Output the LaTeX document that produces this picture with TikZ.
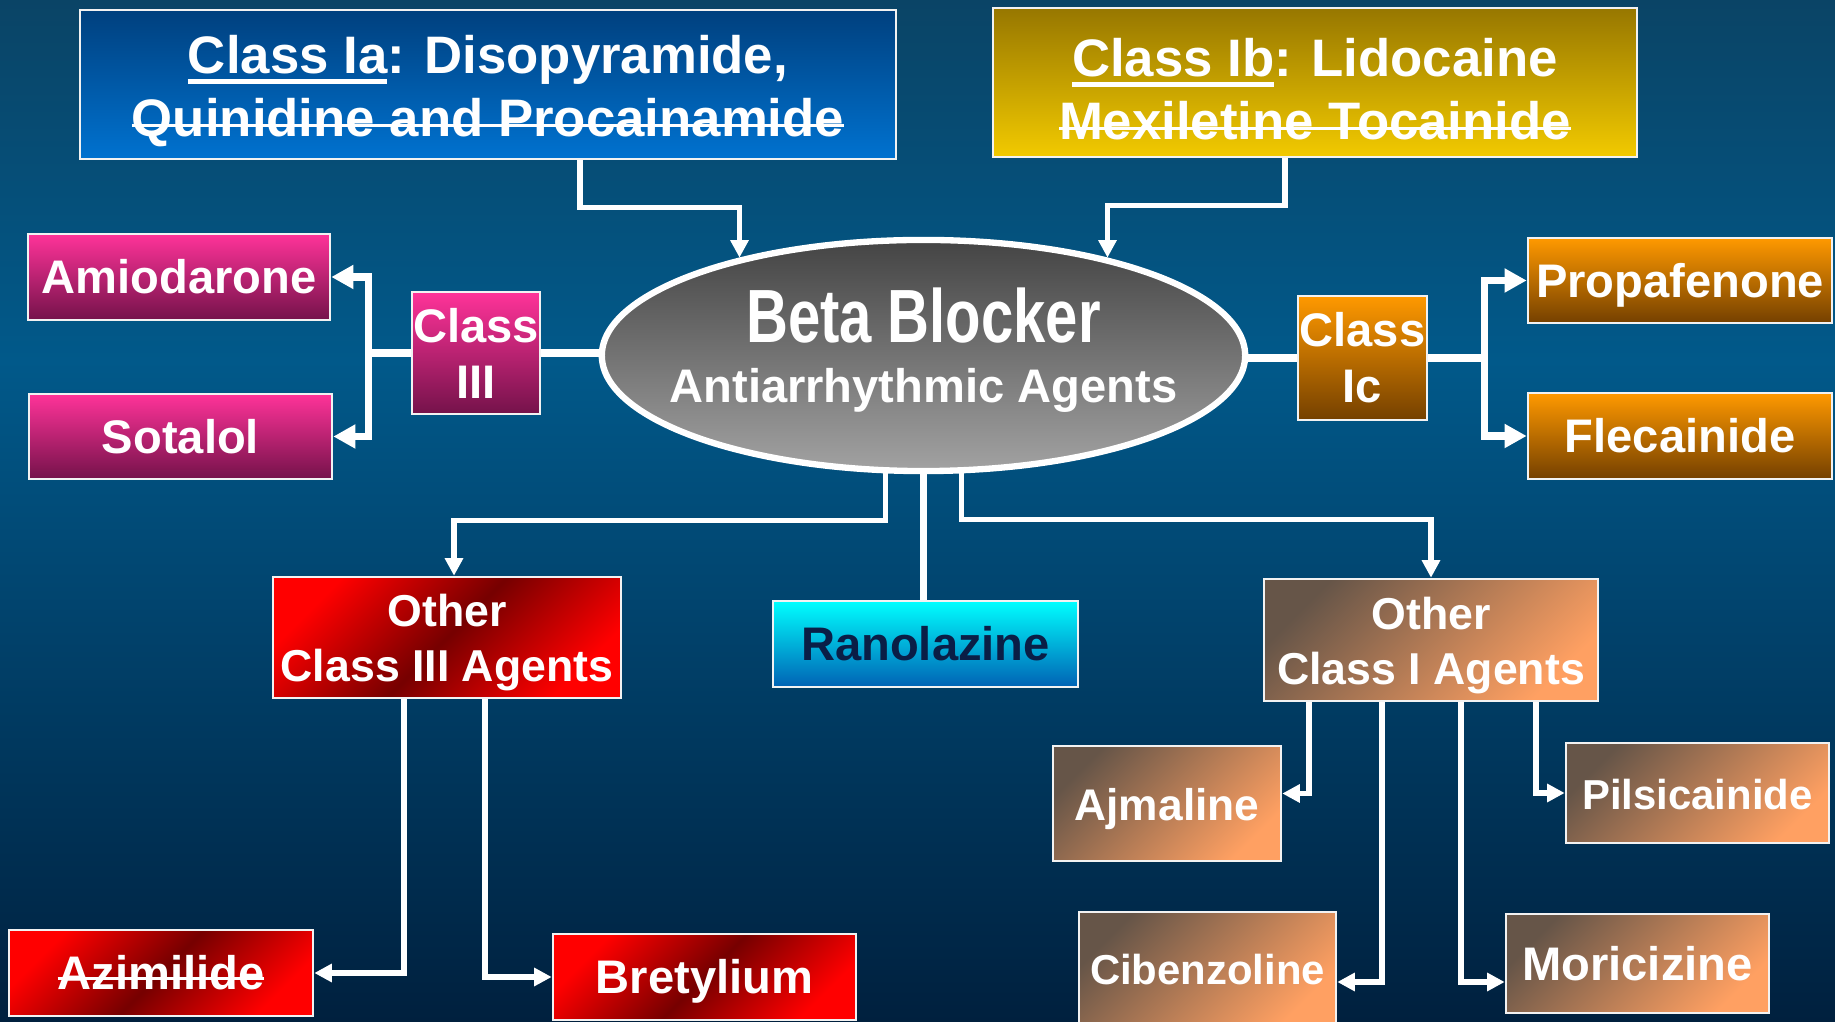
\documentclass[tikz,border=0pt]{standalone}
\usepackage{fontspec}
\setmainfont{Liberation Sans}
\usetikzlibrary{arrows.meta,shapes.geometric}

\definecolor{bgtop}{HTML}{0A4466}
\definecolor{bgmid}{HTML}{01598A}
\definecolor{bgbot}{HTML}{00203E}
\definecolor{iaT}{HTML}{00407E}
\definecolor{iaB}{HTML}{0072D0}
\definecolor{ibT}{HTML}{977700}
\definecolor{ibB}{HTML}{F2CA00}
\definecolor{pinkT}{HTML}{FF3399}
\definecolor{pinkB}{HTML}{74124A}
\definecolor{orgT}{HTML}{FF9900}
\definecolor{orgB}{HTML}{744000}
\definecolor{redL}{HTML}{FF0000}
\definecolor{redD}{HTML}{760000}
\definecolor{brnD}{HTML}{665548}
\definecolor{brnL}{HTML}{FFA062}
\definecolor{cyanT}{HTML}{00FFFF}
\definecolor{cyanB}{HTML}{0062B4}
\definecolor{navytxt}{HTML}{0A1E46}
\definecolor{ellT}{HTML}{444444}
\definecolor{ellB}{HTML}{A2A2A2}

% underline / strike-through
\newlength\decowd
\newcommand\ulc[1]{\settowidth\decowd{#1}\rlap{\rule[-3.1pt]{\decowd}{1.4pt}}#1}
\newcommand\stk[1]{\settowidth\decowd{#1}\rlap{\rule[2.7pt]{\decowd}{0.9pt}}#1}

\tikzset{
  box/.style={draw=white!90!gray, line width=0.7pt, inner sep=0pt, text=white, align=center,
    font=\bfseries\fontsize{13.4}{15.9}\selectfont},
  one/.style={box, text height=9.6pt, text depth=0pt},
  bluebox/.style={top color=iaT, bottom color=iaB},
  goldbox/.style={top color=ibT, bottom color=ibB},
  pinkbox/.style={top color=pinkT, bottom color=pinkB},
  orangebox/.style={top color=orgT, bottom color=orgB},
  cyanbox/.style={top color=cyanT, bottom color=cyanB},
  redbox/.style={top color=redL, bottom color=redL, middle color=redD, shading angle=45},
  brownbox/.style={top color=brnD, bottom color=brnL, shading angle=45},
  conn/.style={draw=white, line width=1.5pt, -{Triangle[length=5pt,width=5pt]}},
  connb/.style={draw=white, line width=2pt, -{Triangle[length=6.3pt,width=6.5pt]}},
  link/.style={draw=white, line width=2.2pt},
}

\begin{document}
\begin{tikzpicture}[x=0.01cm, y=-0.01cm]
  \useasboundingbox (0,0) rectangle (1835,1022);
  % background
  \shade[top color=bgtop, bottom color=bgmid] (0,0) rectangle (1835,361);
  \shade[top color=bgmid, bottom color=bgbot] (0,360) rectangle (1835,1022);

  % class I a / I b
  \node[box, bluebox, minimum width=8.16cm, minimum height=1.49cm,
    font=\bfseries\fontsize{15}{17.9}\selectfont] (ia) at (488,84.5)
    {\rule{0pt}{14.5pt}\ulc{Class Ia}: Disopyramide,\\\stk{Quinidine and Procainamide}};
  \node[box, goldbox, minimum width=6.44cm, minimum height=1.49cm,
    font=\bfseries\fontsize{15}{17.9}\selectfont] (ib) at (1315,82.5)
    {\rule{0pt}{14.5pt}\ulc{Class Ib}: Lidocaine\\\stk{Mexiletine Tocainide}};

  % centre
  \node[ellipse, draw=white, line width=1.8pt, top color=ellT, bottom color=ellB,
    minimum width=6.43cm, minimum height=2.31cm, inner sep=0pt, text=white, align=center,
    font=\bfseries\fontsize{13.4}{17.2}\selectfont] (bb) at (923.5,355.5)
    {\makebox[0pt]{\fontsize{16.5}{17.2}\selectfont\scalebox{1}[1.3]{Beta Blocker}}\\
     \makebox[0pt]{Antiarrhythmic Agents}\rule[-6pt]{0pt}{0pt}};

  % class III
  \node[box, pinkbox, minimum width=1.28cm, minimum height=1.22cm] (c3) at (476,353) {Class\\III};
  \node[one, pinkbox, minimum width=3.02cm, minimum height=0.86cm] (amio) at (179,277) {Amiodarone};
  \node[one, pinkbox, minimum width=3.03cm, minimum height=0.85cm] (sota) at (180.5,436.5) {Sotalol};

  % class I c
  \node[box, orangebox, minimum width=1.29cm, minimum height=1.24cm] (c1c) at (1362.5,358) {Class\\Ic};
  \node[one, orangebox, minimum width=3.04cm, minimum height=0.85cm] (prop) at (1680,280.5) {Propafenone};
  \node[one, orangebox, minimum width=3.04cm, minimum height=0.86cm] (flec) at (1680,436) {Flecainide};

  % lower row
  \node[box, redbox, minimum width=3.48cm, minimum height=1.21cm,
    font=\bfseries\fontsize{12.7}{15.6}\selectfont] (oc3) at (447,637.5)
    {\rule{0pt}{12.2pt}Other\\Class III Agents};
  \node[one, cyanbox, text=navytxt, minimum width=3.05cm, minimum height=0.86cm] (rano) at (925.5,644) {Ranolazine};
  \node[box, brownbox, minimum width=3.34cm, minimum height=1.22cm,
    font=\bfseries\fontsize{12.7}{15.6}\selectfont] (oc1) at (1431,640)
    {\rule{0pt}{12.2pt}Other\\Class I Agents};

  \node[one, redbox, minimum width=3.04cm, minimum height=0.86cm] (azim) at (161,973) {\stk{Azimilide}};
  \node[one, redbox, minimum width=3.03cm, minimum height=0.86cm] (bret) at (704.5,977) {Bretylium};

  \node[one, brownbox, minimum width=2.28cm, minimum height=1.15cm,
    font=\bfseries\fontsize{12.6}{15}\selectfont] (ajm) at (1167,803.5) {Ajmaline};
  \node[one, brownbox, minimum width=2.63cm, minimum height=1.00cm,
    font=\bfseries\fontsize{11.9}{14}\selectfont] (pils) at (1697.5,793) {Pilsicainide};
  \node[one, brownbox, minimum width=2.57cm, minimum height=1.12cm,
    font=\bfseries\fontsize{11.9}{14}\selectfont] (cibe) at (1207.5,968) {Cibenzoline};
  \node[one, brownbox, minimum width=2.63cm, minimum height=0.99cm] (mori) at (1637.5,963.5) {Moricizine};

  % connectors
  \draw[conn] ([xshift=0.92cm]ia.south) -- ++(0,47) -| (bb.152);
  \draw[conn] ([xshift=-0.30cm]ib.south) -- ++(0,47) -| (bb.28);

  \draw[link] (c3.east) -- (c3.east -| bb.west);
  \draw[link] (c3.west) -- ++(-42,0) coordinate (c3fork);
  \draw[connb] (c3fork) |- (amio.east);
  \draw[connb] (c3fork) |- (sota.east);

  \draw[link] (c1c.west -| bb.east) -- (c1c.west);
  \draw[link] (c1c.east) -- ++(56,0) coordinate (c1fork);
  \draw[connb] (c1fork) |- (prop.west);
  \draw[connb] (c1fork) |- (flec.west);

  \draw[conn] (bb.252) -- ++(0,47) -| ([xshift=0.07cm]oc3.north);
  \draw[link] (bb.south) -- (bb.south |- rano.north);
  \draw[conn] (bb.288) -- ++(0,46) -| (oc1.north);

  \draw[conn] ([xshift=-0.43cm]oc3.south) |- (azim.east);
  \draw[conn] ([xshift=0.38cm]oc3.south) |- (bret.west);

  \draw[conn] ([xshift=-1.22cm]oc1.south) |- ([yshift=0.10cm]ajm.east);
  \draw[conn] ([xshift=-0.49cm]oc1.south) |- ([yshift=-0.14cm]cibe.east);
  \draw[conn] ([xshift=0.30cm]oc1.south) |- ([yshift=-0.185cm]mori.west);
  \draw[conn] ([xshift=1.05cm]oc1.south) |- (pils.west);
\end{tikzpicture}
\end{document}
